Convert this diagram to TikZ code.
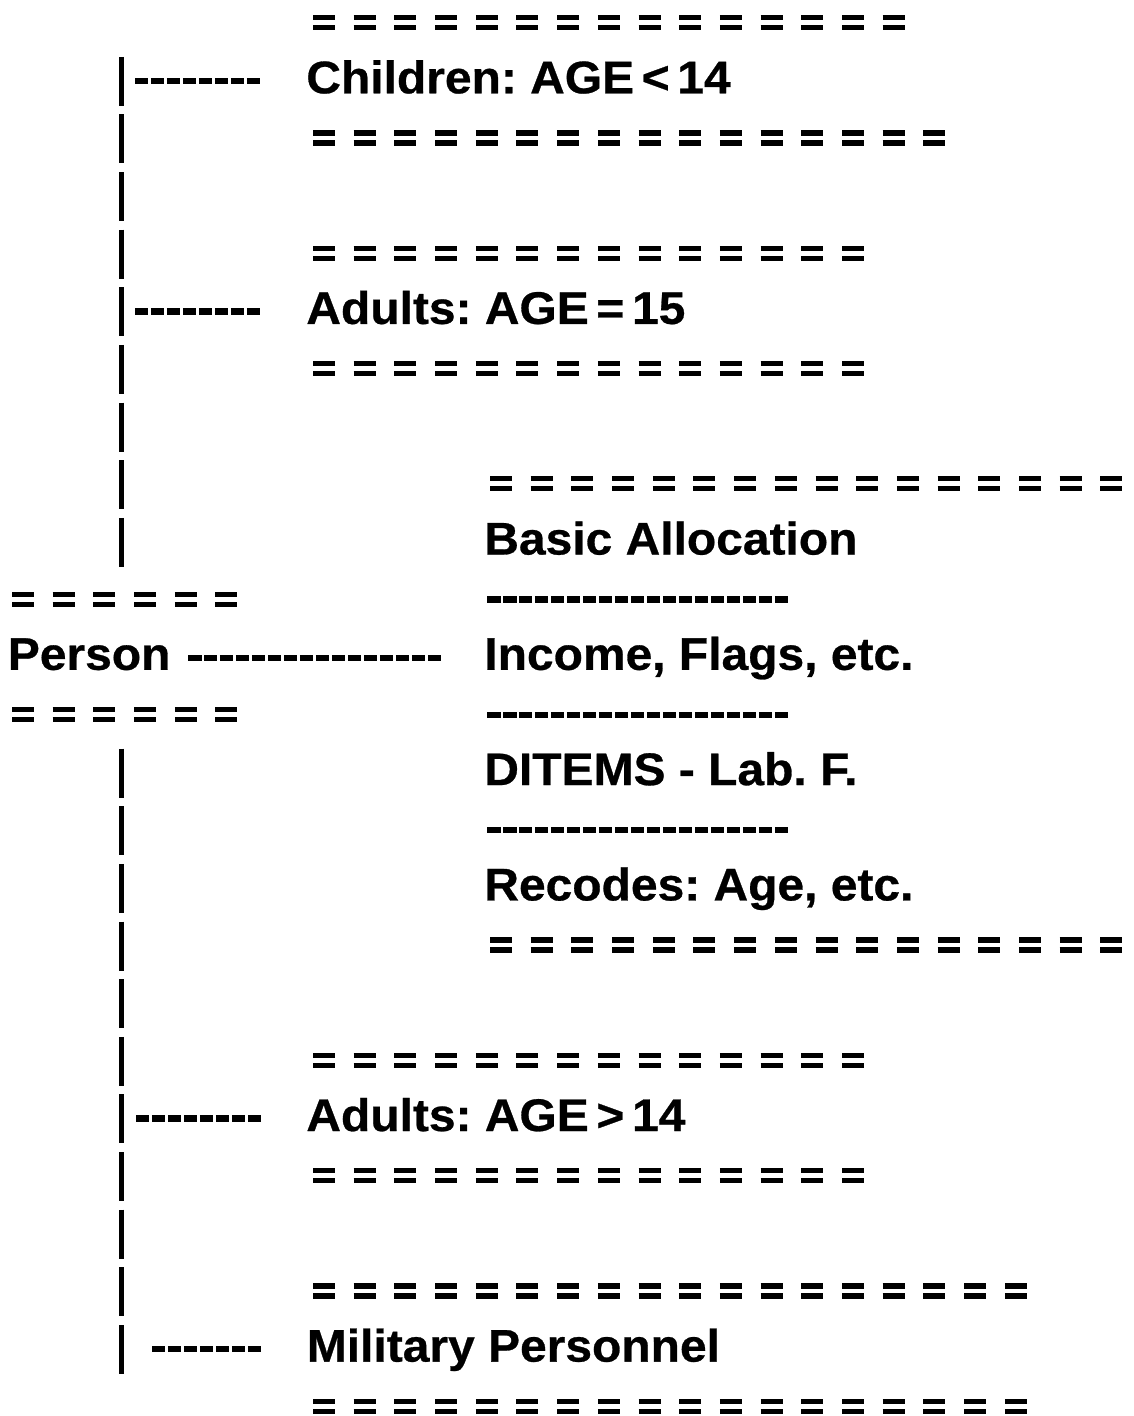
\documentclass[tikz,border=0pt]{standalone}
\usepackage{fontspec}
\setmainfont{Liberation Sans}[FakeStretch=1.05,FakeBold=0.6]
\newcommand\eqrow[3]{%
  \pgfmathsetmacro\eqlen{(#3-1)*40.7+22}%
  \draw[eqbar] (#1,#2-2) -- ++(\eqlen,0);
  \draw[eqbar] (#1,#2+8) -- ++(\eqlen,0);}
\begin{document}
\frenchspacing
\begin{tikzpicture}[x=0.02cm,y=-0.02cm,
  lbl/.style={anchor=base west,inner sep=0pt,font=\fontsize{26}{30}\selectfont\bfseries},
  eqbar/.style={line width=0.105cm,dash pattern=on 0.44cm off 0.374cm},
  conn/.style={line width=0.13cm,dash pattern=on 0.27cm off 0.05cm},
  trunk/.style={line width=0.1cm,dash pattern=on 0.98cm off 0.173cm}]
\useasboundingbox[fill=white] (0,0) rectangle (1133,1416);

% labels
\node[lbl] (child)   at (306,93.3)    {Children: AGE\,<\,14};
\node[lbl] (ad15)    at (306,323.9)   {Adults: AGE\,=\,15};
\node[lbl] (basic)   at (484,554.5)   {Basic Allocation};
\node[lbl] (person)  at (7.5,669.8)   {Person};
\node[lbl] (income)  at (484,669.8)   {Income, Flags, etc.};
\node[lbl] (ditems)  at (484,785.1)   {DITEMS - Lab. F.};
\node[lbl] (recodes) at (484,900.4)   {Recodes: Age, etc.};
\node[lbl] (ad14)    at (306,1131)    {Adults: AGE\,>\,14};
\node[lbl] (mil)     at (306.5,1361.6){Military Personnel};

% double rules
\eqrow{313}{19.65}{15}
\eqrow{313}{134.95}{16}
\eqrow{313}{250.25}{14}
\eqrow{313}{365.55}{14}
\eqrow{490}{480.85}{16}
\eqrow{12}{596.15}{6}
\eqrow{12}{711.45}{6}
\eqrow{490}{942.05}{16}
\eqrow{313}{1057.35}{14}
\eqrow{313}{1172.65}{14}
\eqrow{313}{1287.95}{18}
\eqrow{313}{1403.25}{18}

% trunk
\coordinate (tup1) at (121,56.8);
\coordinate (tup2) at (121,568.5);
\coordinate (tlo1) at (121,748.6);
\coordinate (tlo2) at (121,1373.6);
\draw[trunk] (tup1) -- (tup2);
\draw[trunk] (tlo1) -- (tlo2);

% connectors
\coordinate (cc1) at (135,80.8);   \coordinate (cc2) at (261,80.8);
\coordinate (ca1) at (135,311.4);  \coordinate (ca2) at (261,311.4);
\coordinate (cp1) at (188,657.8);  \coordinate (cp2) at (442,657.8);
\coordinate (cb1) at (136,1118.5); \coordinate (cb2) at (262,1118.5);
\coordinate (cm1) at (152,1349);   \coordinate (cm2) at (262,1349);
\draw[conn] (cc1) -- (cc2);
\draw[conn] (ca1) -- (ca2);
\draw[conn] (cp1) -- (cp2);
\draw[conn] (cb1) -- (cb2);
\draw[conn] (cm1) -- (cm2);

% separators in the Person box
\coordinate (s1a) at (487,599.6);  \coordinate (s1b) at (789,599.6);
\coordinate (s2a) at (487,714.9);  \coordinate (s2b) at (789,714.9);
\coordinate (s3a) at (487,830.2);  \coordinate (s3b) at (789,830.2);
\draw[conn] (s1a) -- (s1b);
\draw[conn] (s2a) -- (s2b);
\draw[conn] (s3a) -- (s3b);
\end{tikzpicture}
\end{document}
